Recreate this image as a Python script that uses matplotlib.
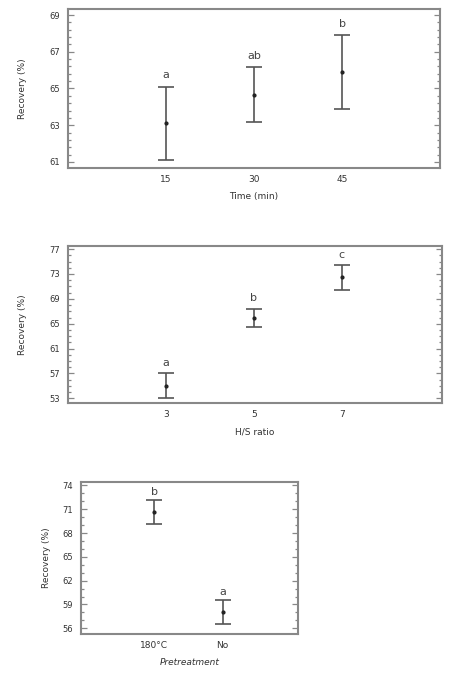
import matplotlib
matplotlib.use("Agg")
import matplotlib.pyplot as plt
from matplotlib.ticker import AutoMinorLocator

# Panel 1: Time
time_labels = ["15", "30", "45"]
time_mean = [63.1, 64.65, 65.9]
time_err = [2.0, 1.5, 2.0]
time_letters = ["a", "ab", "b"]
time_yticks = [61, 63, 65, 67, 69]

# Panel 2: H/S ratio
ratio_labels = ["3", "5", "7"]
ratio_mean = [55.05, 65.9, 72.45]
ratio_err = [2.0, 1.5, 1.95]
ratio_letters = ["a", "b", "c"]
ratio_yticks = [53, 57, 61, 65, 69, 73, 77]

# Panel 3: Pretreatment
pre_labels = ["180°C", "No"]
pre_mean = [70.7, 58.1]
pre_err = [1.5, 1.5]
pre_letters = ["b", "a"]
pre_yticks = [56, 59, 62, 65, 68, 71, 74]

W, H = 450, 683
fig = plt.figure(figsize=(W / 100, H / 100), dpi=100)

def ax_rect(x0, y0, x1, y1):
    return [x0 / W, 1 - y1 / H, (x1 - x0) / W, (y1 - y0) / H]

frame_c = "#888888"
bar_c = "#555555"
txt_c = "#333333"
fs = 6

def panel(rect, labels, mean, err, letters, yticks, ylim, xlim, minor_n, xlabel,
          letter_off, ylabelpad, italic=False):
    ax = fig.add_axes(rect)
    xs = list(range(len(labels)))
    ax.errorbar(xs, mean, yerr=err, fmt="o", color="#222222", ms=2,
                ecolor=bar_c, elinewidth=1.2, capsize=5.5, capthick=1.2)
    for x, m, e, l in zip(xs, mean, err, letters):
        ax.text(x, m + e + letter_off, l, ha="center", va="bottom",
                fontsize=8, color="#444444")
    ax.set_xlim(*xlim)
    ax.set_ylim(*ylim)
    ax.set_xticks(xs)
    ax.set_xticklabels(labels, fontsize=fs + 0.5, color=txt_c)
    ax.set_yticks(yticks)
    ax.set_yticklabels([str(t) for t in yticks], fontsize=fs, color=txt_c)
    ax.yaxis.set_minor_locator(AutoMinorLocator(minor_n))
    ax.tick_params(axis="y", which="both", direction="in", left=True, right=True,
                   color=frame_c, pad=6)
    ax.tick_params(axis="y", which="major", length=4, width=0.9)
    ax.tick_params(axis="y", which="minor", length=2, width=0.9)
    ax.tick_params(axis="x", length=0, pad=5)
    for s in ax.spines.values():
        s.set_color(frame_c)
        s.set_linewidth(1.5)
    ax.set_ylabel("Recovery (%)", fontsize=fs + 0.5, color=txt_c, labelpad=ylabelpad)
    ax.set_xlabel(xlabel, fontsize=fs + 0.5, color=txt_c, labelpad=6,
                  style="italic" if italic else "normal")
    return ax

panel(ax_rect(68, 9, 440, 168), time_labels, time_mean, time_err, time_letters,
      time_yticks, (60.67, 69.33), (-1.11, 3.11), 5, "Time (min)", 0.35, 16)
panel(ax_rect(68, 246, 442, 403), ratio_labels, ratio_mean, ratio_err, ratio_letters,
      ratio_yticks, (52.25, 77.5), (-1.11, 3.14), 4, "H/S ratio", 0.9, 16)
panel(ax_rect(81, 482, 298, 634), pre_labels, pre_mean, pre_err, pre_letters,
      pre_yticks, (55.28, 74.43), (-1.07, 2.1), 3, "Pretreatment", 0.4, 8, italic=True)

fig.savefig("out.png", dpi=100)
